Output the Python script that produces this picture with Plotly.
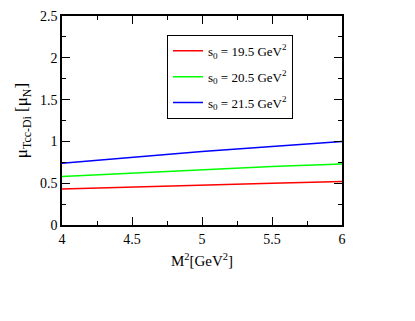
import plotly.graph_objects as go

# Borel mass squared M^2 [GeV^2]
m2 = [4.0, 4.5, 5.0, 5.5, 6.0]

# magnetic moment for the three threshold values
mu_s195 = [0.43, 0.455, 0.48, 0.50, 0.52]
mu_s205 = [0.58, 0.62, 0.66, 0.70, 0.73]
mu_s215 = [0.74, 0.81, 0.88, 0.94, 1.00]

labels = ["s<sub>0</sub> = 19.5 GeV<sup>2</sup>",
          "s<sub>0</sub> = 20.5 GeV<sup>2</sup>",
          "s<sub>0</sub> = 21.5 GeV<sup>2</sup>"]
colors = ["#ff0000", "#00ff00", "#0000ff"]

fig = go.Figure()
for i, (ys, name) in enumerate(zip([mu_s195, mu_s205, mu_s215], labels)):
    fig.add_trace(go.Scatter(x=m2, y=ys, mode="lines", name=name,
                             legendgroup=str(i),
                             line=dict(color=colors[i], width=1.5)))

serif = "Liberation Serif, Times New Roman, serif"
axis_common = dict(showline=True, linecolor="black", linewidth=1.5, mirror="allticks",
                   ticks="inside", ticklen=8, tickcolor="black", showgrid=False,
                   zeroline=False, automargin=False,
                   tickfont=dict(family=serif, size=14, color="black"))

fig.update_xaxes(range=[4, 6], dtick=0.5,
                 minor=dict(ticks="inside", ticklen=4, dtick=0.25, tickcolor="black"),
                 title=dict(text="M<sup>2</sup>[GeV<sup>2</sup>]",
                            font=dict(family=serif, size=15, color="black"), standoff=10),
                 **axis_common)
fig.update_yaxes(range=[0, 2.5], dtick=0.5,
                 minor=dict(ticks="inside", ticklen=4, dtick=0.25, tickcolor="black"),
                 title=dict(text="μ<sub>Tcc-Di</sub> [μ<sub>N</sub>]",
                            font=dict(family=serif, size=17, color="black"), standoff=8),
                 **axis_common)

# the page body adds an 8px offset, so the figure is drawn 8px smaller
fig.update_layout(
    width=407, height=313,
    margin=dict(l=54, r=73, t=8, b=96),
    paper_bgcolor="white", plot_bgcolor="white",
    font=dict(family=serif, color="black"),
    legend=dict(x=0.375, y=0.91, xanchor="left", yanchor="top",
                bordercolor="black", borderwidth=1, bgcolor="white",
                font=dict(family=serif, size=13, color="black"),
                itemwidth=30, tracegroupgap=6),
)

fig.write_html("out.html")
